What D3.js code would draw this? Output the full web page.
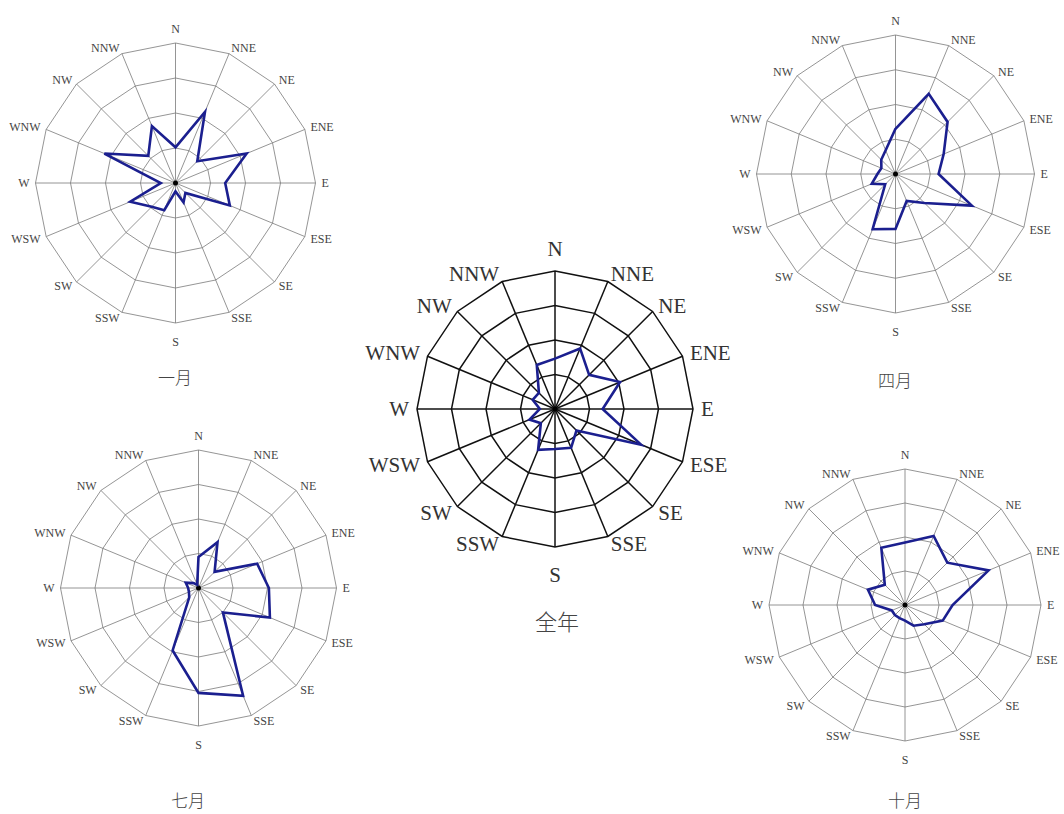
<!DOCTYPE html>
<html>
<head>
<meta charset="utf-8">
<script src="https://cdn.jsdelivr.net/npm/d3@7"></script>
<style>
  body { margin: 0; background: #fff; }
</style>
</head>
<body>
<script>
// 16 compass directions, clockwise from north
const dirs = ["N", "NNE", "NE", "ENE", "E", "ESE", "SE", "SSE",
              "S", "SSW", "SW", "WSW", "W", "WNW", "NW", "NNW"];

// ring values (wind frequency, %)
const rings = [5, 10, 15, 20];

// frequencies per direction (%)
const jan = [5.1, 11.0, 4.4, 11.0, 7.1, 8.4, 2.0, 3.0, 1.2, 4.2, 4.8, 7.0, 2.1, 11.0, 5.5, 8.8];
const apr = [6.5, 12.5, 10.6, 7.5, 6.2, 11.9, 5.9, 4.2, 7.9, 8.6, 2.1, 3.7, 2.6, 2.2, 2.9, 3.7];
const jul = [4.5, 7.2, 3.3, 9.2, 10.2, 11.2, 5.0, 16.9, 15.2, 9.8, 1.9, 1.5, 1.5, 2.0, 1.0, 0.5];
const oct = [9.2, 11.0, 8.8, 13.3, 7.0, 6.0, 4.0, 3.3, 2.3, 2.1, 2.1, 2.1, 4.4, 5.9, 4.2, 9.1];
const year = [7.3, 9.5, 7.0, 10.2, 6.9, 13.5, 4.4, 6.1, 5.8, 6.4, 2.9, 4.0, 2.2, 3.5, 3.3, 6.9];

const titles = ["一月", "四月", "七月", "十月", "全年"];

let svg = d3.select("body").append("svg")
    .attr("width", 1064)
    .attr("height", 814);

// layout for each rose
const small = { grid: "#7a7a7a", gw: 0.8, lab: "#444", fs: 12, side: 6, top: 14, bottom: 19, tfs: 17 };
const big = { grid: "#111", gw: 1.5, lab: "#333", fs: 21, side: 8, top: 22, bottom: 28, tfs: 22 };

const roses = [
    { values: jan, title: titles[0], cx: 175.5, cy: 183, R: 140, st: small, tx: 175, ty: 384 },
    { values: apr, title: titles[1], cx: 895.5, cy: 174, R: 139, st: small, tx: 895, ty: 387 },
    { values: jul, title: titles[2], cx: 198.5, cy: 588, R: 138, st: small, tx: 188, ty: 807 },
    { values: oct, title: titles[3], cx: 905, cy: 605, R: 136, st: small, tx: 905, ty: 807 },
    { values: year, title: titles[4], cx: 555, cy: 409, R: 138, st: big, tx: 557, ty: 630 }
];

let angle = d3.scaleLinear().domain([0, dirs.length]).range([0, 2 * Math.PI]);

function drawRose(p) {
    let st = p.st;
    let g = svg.append("g").attr("transform", `translate(${p.cx},${p.cy})`);
    let r = d3.scaleLinear().domain([0, rings[rings.length - 1]]).range([0, p.R]);

    // concentric 16-sided rings
    g.selectAll("path.ring").data(rings).enter().append("path")
        .attr("class", "ring")
        .attr("d", t => d3.lineRadial()
            .angle((d, i) => angle(i))
            .radius(r(t))
            .curve(d3.curveLinearClosed)(dirs))
        .attr("fill", "none")
        .attr("stroke", st.grid)
        .attr("stroke-width", st.gw);

    // spokes
    g.selectAll("line.spoke").data(dirs).enter().append("line")
        .attr("class", "spoke")
        .attr("x1", 0).attr("y1", 0)
        .attr("x2", (d, i) => r(rings[rings.length - 1]) * Math.sin(angle(i)))
        .attr("y2", (d, i) => -r(rings[rings.length - 1]) * Math.cos(angle(i)))
        .attr("stroke", st.grid)
        .attr("stroke-width", st.gw);

    g.append("circle").attr("r", 2.5).attr("fill", "#000");

    // direction labels
    g.selectAll("text.dir").data(dirs).enter().append("text")
        .attr("class", "dir")
        .attr("x", (d, i) => {
            let s = Math.sin(angle(i));
            return Math.abs(s) < 0.01 ? 0 : (p.R + st.side) * s;
        })
        .attr("y", (d, i) => {
            let c = Math.cos(angle(i));
            if (d === "N") return -(p.R + st.top);
            if (d === "S") return p.R + st.bottom;
            return -(p.R + st.side) * c;
        })
        .attr("dy", "0.35em")
        .attr("text-anchor", (d, i) => {
            let s = Math.sin(angle(i));
            return s > 0.01 ? "start" : (s < -0.01 ? "end" : "middle");
        })
        .attr("font-family", "'Liberation Serif', 'DejaVu Serif', serif")
        .attr("font-size", st.fs)
        .attr("fill", st.lab)
        .text(d => d);

    // frequency polygon
    g.append("path")
        .datum(p.values)
        .attr("d", d3.lineRadial()
            .angle((d, i) => angle(i))
            .radius(d => r(d))
            .curve(d3.curveLinearClosed))
        .attr("fill", "none")
        .attr("stroke", "#1b1f8f")
        .attr("stroke-width", 2.6)
        .attr("stroke-linejoin", "miter");

    svg.append("text")
        .attr("x", p.tx)
        .attr("y", p.ty)
        .attr("text-anchor", "middle")
        .attr("font-family", "'Noto Sans CJK SC', sans-serif")
        .attr("font-weight", 300)
        .attr("font-size", st.tfs)
        .attr("fill", "#444")
        .text(p.title);
}

roses.forEach(drawRose);
</script>
</body>
</html>
